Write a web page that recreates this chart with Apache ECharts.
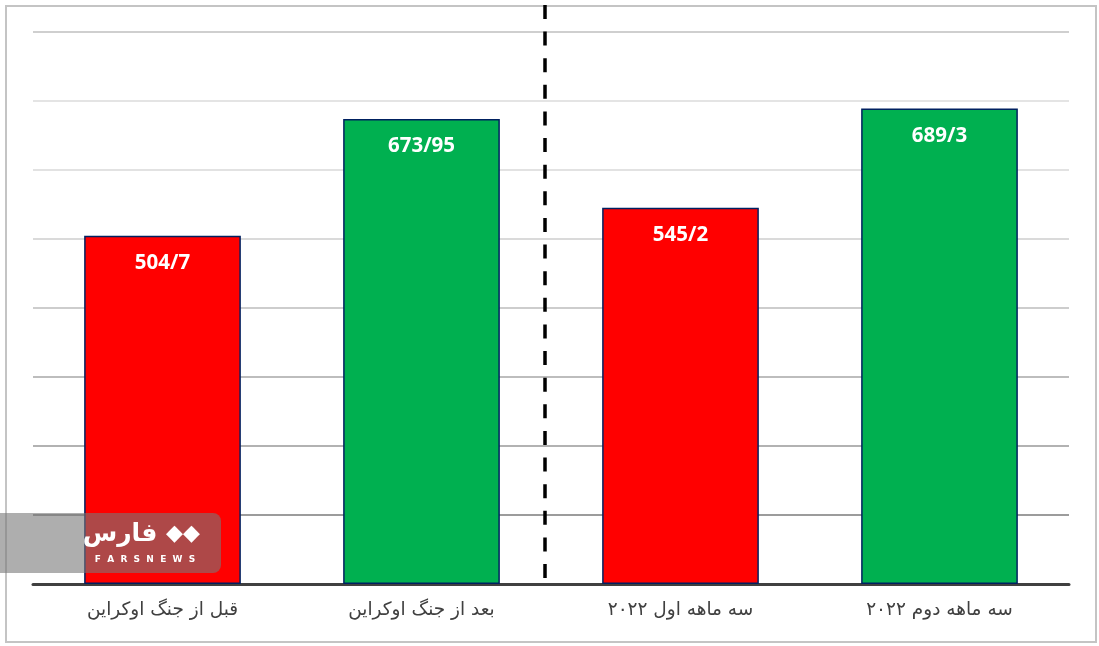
<!DOCTYPE html>
<html>
<head>
<meta charset="utf-8">
<script src="https://cdn.jsdelivr.net/npm/echarts@6/dist/echarts.min.js"></script>
<style>
html,body{margin:0;padding:0;background:#fff;}
#frame{position:absolute;left:5px;top:5px;width:1088px;height:634px;border:2px solid #c4c4c4;}
#chart{position:absolute;left:0;top:0;width:1099px;height:646px;}
</style>
</head>
<body>
<div id="frame"></div>
<div id="chart"></div>
<script>
const categories = ['قبل از جنگ اوکراین', 'بعد از جنگ اوکراین', 'سه ماهه اول ۲۰۲۲', 'سه ماهه دوم ۲۰۲۲'];
const values = [504.7, 673.95, 545.2, 689.3];
const barColors = ['#FF0000', '#00B050', '#FF0000', '#00B050'];
const yMin = 0, yMax = 800, yInterval = 100;

const chart = echarts.init(document.getElementById('chart'), null, {renderer: 'canvas'});
chart.setOption({
  animation: false,
  grid: {left: 33, right: 30, top: 32, bottom: 62},
  xAxis: {
    type: 'category',
    data: categories,
    axisLine: {lineStyle: {color: '#404040', width: 3}},
    axisTick: {show: false},
    axisLabel: {color: '#404040', fontSize: 18.5, fontFamily: 'DejaVu Sans', margin: 17}
  },
  yAxis: {
    type: 'value', min: yMin, max: yMax, interval: yInterval,
    axisLabel: {show: false}, axisLine: {show: false}, axisTick: {show: false},
    splitLine: {lineStyle: {width: 2, color: ['#999999', '#9c9c9c', '#b2b2b2', '#bdbdbd', '#cdcdcd', '#dadada', '#e2e2e2', '#e4e4e4', '#cfcfcf']}}
  },
  series: [{
    type: 'bar',
    barWidth: '60.5%',
    data: values.map((v, i) => ({value: v, itemStyle: {color: barColors[i]}})),
    itemStyle: {borderColor: '#002060', borderWidth: 1.5},
    label: {
      show: true, position: 'insideTop', distance: 17,
      color: '#ffffff', fontWeight: 'bold', fontSize: 20.5, fontFamily: 'Open Sans',
      formatter: p => String(p.value).replace('.', '/')
    }
  }]
});

// dashed separator between the 2nd and 3rd categories
const x1 = chart.convertToPixel({xAxisIndex: 0}, 1);
const x2 = chart.convertToPixel({xAxisIndex: 0}, 2);
const xs = (x1 + x2) / 2 - 6;
const yBottom = chart.convertToPixel({yAxisIndex: 0}, 0) - 6;
chart.setOption({
  graphic: [
    {type: 'line', shape: {x1: xs, y1: 5, x2: xs, y2: yBottom},
     style: {stroke: '#000', lineWidth: 3.5, lineDash: [14, 12.62]}, z: 10},
    {type: 'rect', shape: {x: 0, y: 513, width: 221, height: 60, r: [0, 8, 8, 0]},
     style: {fill: 'rgba(120,120,120,0.6)'}, z: 20},
    {type: 'text', x: 120, y: 522, style: {text: 'فارس', fill: '#fff', font: 'bold 25px DejaVu Sans', textAlign: 'center'}, z: 21},
    {type: 'text', x: 145, y: 555, style: {text: 'F  A  R  S  N  E  W  S', fill: '#fff', font: 'bold 9px DejaVu Sans', textAlign: 'center'}, z: 21},
    {type: 'text', x: 183, y: 523, style: {text: '◆◆', fill: '#fff', font: '22px DejaVu Sans', textAlign: 'center'}, z: 21}
  ]
});
</script>
</body>
</html>
